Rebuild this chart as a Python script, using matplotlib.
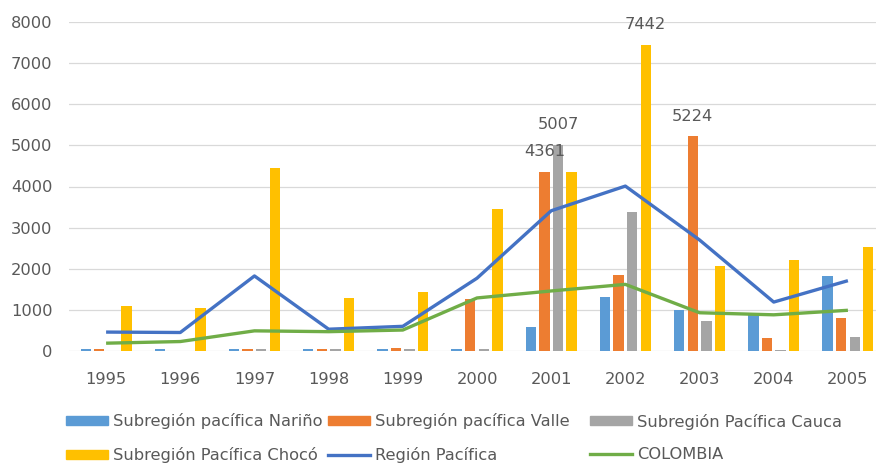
import matplotlib
matplotlib.use("Agg")
import matplotlib.pyplot as plt
import numpy as np
from matplotlib.lines import Line2D
from matplotlib.patches import Patch

years = ["1995", "1996", "1997", "1998", "1999", "2000", "2001", "2002", "2003", "2004", "2005"]
narino = [40, 40, 40, 40, 40, 60, 590, 1320, 1000, 880, 1820]
valle = [40, 0, 40, 40, 70, 1270, 4361, 1850, 5224, 310, 800]
cauca = [0, 0, 40, 40, 40, 40, 5007, 3380, 740, 30, 340]
choco = [1100, 1040, 4450, 1290, 1430, 3450, 4360, 7442, 2070, 2210, 2530]
region = [460, 450, 1825, 530, 600, 1770, 3410, 4010, 2700, 1190, 1710]
colombia = [190, 230, 490, 470, 510, 1290, 1460, 1620, 930, 880, 990]

bar_names = ["Subregión pacífica Nariño", "Subregión pacífica Valle",
             "Subregión Pacífica Cauca", "Subregión Pacífica Chocó"]
line_names = ["Región Pacífica", "COLOMBIA"]
# (bar series index, year index) that carry a data label
labeled = [(1, 6), (2, 6), (3, 7), (1, 8)]

bar_colors = ["#5B9BD5", "#ED7D31", "#A5A5A5", "#FFC000"]
line_colors = ["#4472C4", "#70AD47"]
txt = "#595959"

plt.rcParams['font.family'] = ['DejaVu Sans']
fig = plt.figure(figsize=(8.76, 4.66), dpi=100)
ax = fig.add_axes([69/876, 115/466, 816/876, 329/466])

x = np.arange(len(years))
step = 0.183
width = 0.14
series = [narino, valle, cauca, choco]
for i, (vals, c) in enumerate(zip(series, bar_colors)):
    ax.bar(x + (i - 1.5) * step, vals, width=width, color=c, zorder=2)

for vals, c in zip([region, colombia], line_colors):
    ax.plot(x, vals, color=c, lw=2.4, zorder=3, solid_capstyle='butt')

for si, yi in labeled:
    v = series[si][yi]
    ax.annotate(f"{v}", (x[yi] + (si - 1.5) * step, v), xytext=(0, 14.5),
                textcoords='offset points', ha='center', va='center',
                fontsize=11.7, color=txt, zorder=4)

ax.set_xlim(-0.5, len(years) - 0.5)
ax.set_ylim(0, 8000)
ax.set_yticks(range(0, 8001, 1000))
ax.set_xticks(x)
ax.set_xticklabels(years)
ax.tick_params(axis='both', length=0, labelsize=11.7, labelcolor=txt)
ax.tick_params(axis='y', pad=12)
ax.tick_params(axis='x', pad=15)
ax.grid(axis='y', color="#D9D9D9", lw=0.9, zorder=0)
ax.set_axisbelow(True)
for s in ax.spines.values():
    s.set_visible(False)

handles = [Patch(color=c) for c in bar_colors] + \
          [Line2D([], [], color=c, lw=2.4) for c in line_colors]
labels = bar_names + line_names
cols = [[0, 3], [1, 4], [2, 5]]
col_x = [66, 328, 590]
for cx, idx in zip(col_x, cols):
    fig.legend([handles[i] for i in idx], [labels[i] for i in idx],
               loc='center left', bbox_to_anchor=(cx / 876, 1 - 438 / 466),
               frameon=False, fontsize=11.7, labelcolor=txt, borderpad=0,
               borderaxespad=0, handlelength=2.6, handletextpad=0.3,
               handleheight=0.5, labelspacing=1.1)

fig.savefig("out.png", dpi=100)
